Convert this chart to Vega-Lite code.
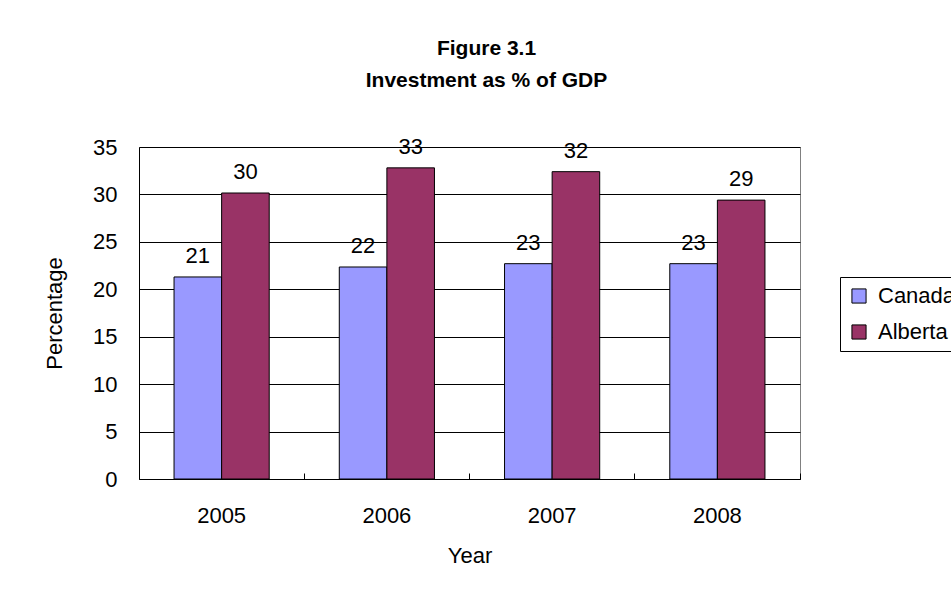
{
  "$schema": "https://vega.github.io/schema/vega-lite/v6.json",
  "width": 661,
  "height": 332,
  "autosize": {"type": "none"},
  "padding": {"left": 139, "top": 147, "right": 151, "bottom": 113},
  "background": "white",
  "title": {
    "text": ["Figure 3.1", "Investment as % of GDP"],
    "font": "Liberation Sans",
    "fontSize": 21,
    "fontWeight": "bold",
    "color": "black",
    "lineHeight": 32,
    "anchor": "middle",
    "offset": 45,
    "dx": 17
  },
  "data": {
    "values": [
      {"year": "2005", "region": "Canada", "value": 21.3},
      {"year": "2005", "region": "Alberta", "value": 30.15},
      {"year": "2006", "region": "Canada", "value": 22.35},
      {"year": "2006", "region": "Alberta", "value": 32.8},
      {"year": "2007", "region": "Canada", "value": 22.7},
      {"year": "2007", "region": "Alberta", "value": 32.4},
      {"year": "2008", "region": "Canada", "value": 22.7},
      {"year": "2008", "region": "Alberta", "value": 29.4}
    ]
  },
  "encoding": {
    "xOffset": {
      "field": "region",
      "sort": ["Canada", "Alberta"],
      "scale": {"paddingInner": 0, "paddingOuter": 0}
    },
    "y": {
      "field": "value",
      "type": "quantitative",
      "scale": {"domain": [0, 35], "nice": false},
      "axis": {
        "title": "Percentage",
        "values": [0, 5, 10, 15, 20, 25, 30, 35],
        "grid": true,
        "gridColor": "black",
        "gridOpacity": 1,
        "gridWidth": 1,
        "domainColor": "black",
        "ticks": false,
        "labelPadding": 22,
        "labelFont": "Liberation Sans",
        "labelFontSize": 22,
        "labelColor": "black",
        "titleFont": "Liberation Sans",
        "titleFontSize": 22,
        "titleFontWeight": "normal",
        "titleColor": "black",
        "titlePadding": 26
      }
    }
  },
  "layer": [
    {
      "mark": {"type": "bar", "stroke": "black", "strokeWidth": 1},
      "encoding": {
        "x": {
          "field": "year",
          "type": "nominal",
          "scale": {"paddingInner": 0.424, "paddingOuter": 0.212},
          "axis": {
            "title": "Year",
            "orient": "bottom",
            "labelAngle": 0,
            "labelFont": "Liberation Sans",
            "labelFontSize": 22,
            "labelColor": "black",
            "labelPadding": 26,
            "ticks": false,
            "domainColor": "black",
            "titleFont": "Liberation Sans",
            "titleFontSize": 22,
            "titleFontWeight": "normal",
            "titleColor": "black",
            "titlePadding": 19,
            "grid": false
          }
        },
        "color": {
          "field": "region",
          "type": "nominal",
          "sort": ["Canada", "Alberta"],
          "scale": {"domain": ["Canada", "Alberta"], "range": ["#9999FF", "#993366"]},
          "legend": {
            "title": null,
            "orient": "none",
            "legendX": 701,
            "legendY": 130,
            "padding": 8,
            "strokeColor": "black",
            "fillColor": "white",
            "symbolType": "square",
            "symbolSize": 200,
            "symbolStrokeColor": "black",
            "symbolStrokeWidth": 1,
            "symbolOpacity": 1,
            "labelFont": "Liberation Sans",
            "labelFontSize": 22,
            "labelColor": "black",
            "labelOffset": 8,
            "labelLimit": 300,
            "rowPadding": 14
          }
        }
      }
    },
    {
      "mark": {
        "type": "text",
        "baseline": "alphabetic",
        "dy": -14,
        "font": "Liberation Sans",
        "fontSize": 22,
        "color": "black"
      },
      "encoding": {
        "x": {
          "field": "year",
          "type": "nominal",
          "axis": {
            "orient": "bottom",
            "title": null,
            "labels": false,
            "domain": false,
            "grid": false,
            "ticks": true,
            "bandPosition": 1.37,
            "tickSize": -6,
            "tickColor": "black"
          }
        },
        "text": {"field": "value", "type": "quantitative", "format": ".0f"}
      }
    }
  ],
  "resolve": {"axis": {"x": "independent"}},
  "config": {
    "view": {"stroke": "#808080", "strokeWidth": 1}
  }
}
